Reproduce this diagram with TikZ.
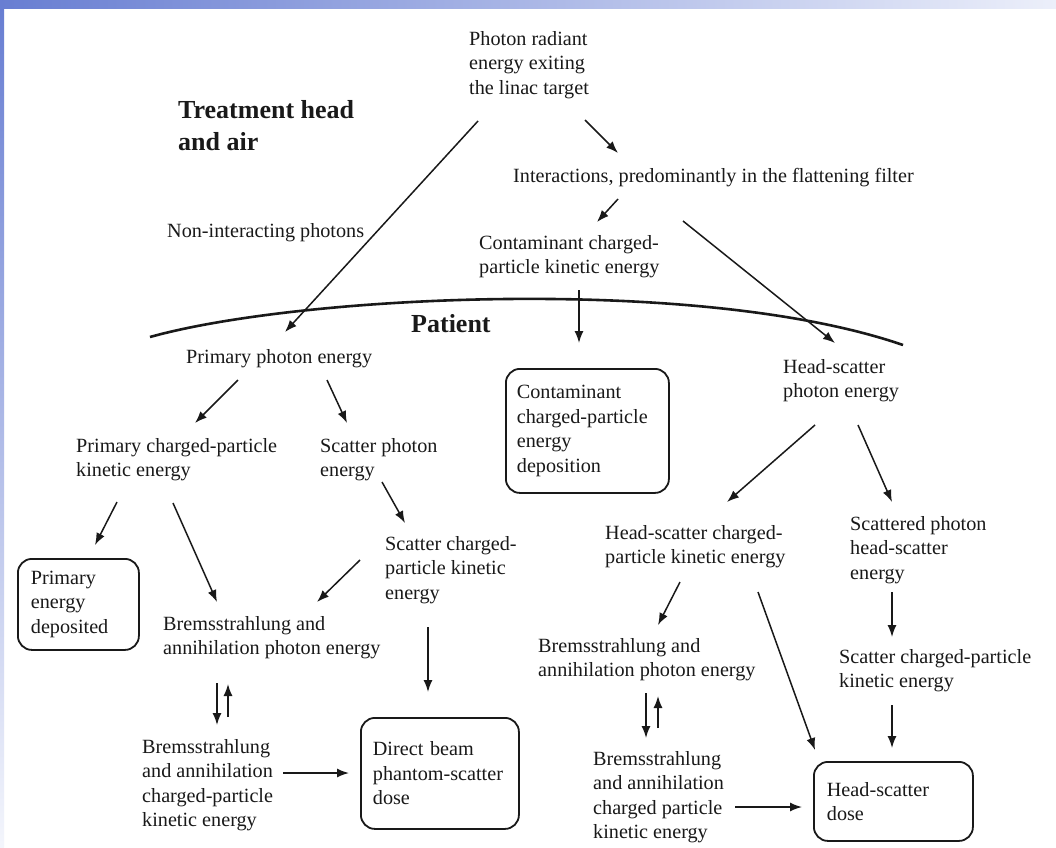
\documentclass[tikz,border=0pt]{standalone}
\usepackage{fontspec}
\setmainfont{Liberation Serif}
\usetikzlibrary{arrows.meta}
\definecolor{txt}{RGB}{25,25,25}
\definecolor{slideblue}{RGB}{104,126,210}
\definecolor{slidelight}{RGB}{236,239,250}
\begin{document}
\begin{tikzpicture}[x=1pt,y=-1pt,
  every node/.style={inner sep=0pt, text=txt, font=\fontsize{20.2pt}{24.5pt}\selectfont},
  lbl/.style={anchor=north west, align=left},
  hdr/.style={anchor=north west, align=left, font=\fontsize{26pt}{32pt}\selectfont\bfseries},
  dbox/.style={draw=txt, line width=1.8pt, rounded corners=14pt, align=left, anchor=north west},
  arr/.style={draw=txt, line width=1.5pt, -{Latex[length=12pt,width=9pt]}}
]
\useasboundingbox (0,0) rectangle (1056,847);
\fill[white] (0,0) rectangle (1056,847);
% slide background bands
\shade[left color=slideblue, right color=slidelight] (0,0) rectangle (1056,8);
\shade[top color=slideblue, bottom color=slidelight!60!white] (0,8) rectangle (4,847);

% headers
\node[hdr] (head) at (178,118-18) {Treatment head\\and air};
\node[hdr] (patient) at (411,332-18) {Patient};

% boundary curve
\draw[txt, line width=2.6pt] (150,337) .. controls (300,295) and (700,275) .. (903,345);

% text nodes
\node[lbl] (photon) at (469,45-14) {Photon radiant\\energy exiting\\the linac target};
\node[lbl] (inter) at (513,182-14) {Interactions, predominantly in the flattening filter};
\node[lbl] (nonint) at (167,237-14) {Non-interacting photons};
\node[lbl] (contam) at (479,249-14) {Contaminant charged-\\particle kinetic energy};
\node[lbl] (primph) at (186,363-14) {Primary photon energy};
\node[lbl] (hsph) at (783,373-14) {Head-scatter\\photon energy};
\node[lbl] (primcp) at (76,452-14) {Primary charged-particle\\kinetic energy};
\node[lbl] (scph) at (320,452-14) {Scatter photon\\energy};
\node[lbl] (hscp) at (605,539-14) {Head-scatter charged-\\particle kinetic energy};
\node[lbl] (scatph) at (850,530-14) {Scattered photon\\head-scatter\\energy};
\node[lbl] (sccp) at (385,550-14) {Scatter charged-\\particle kinetic\\energy};
\node[lbl] (bremL) at (163,630-14) {Bremsstrahlung and\\annihilation photon energy};
\node[lbl] (bremR) at (538,652-14) {Bremsstrahlung and\\annihilation photon energy};
\node[lbl] (sccpR) at (839,663-14) {Scatter charged-particle\\kinetic energy};
\node[lbl] (bcpL) at (142,753-14) {Bremsstrahlung\\and annihilation\\charged-particle\\kinetic energy};
\node[lbl] (bcpR) at (593,765-14) {Bremsstrahlung\\and annihilation\\charged particle\\kinetic energy};

% boxes
\node[dbox, minimum width=163pt, minimum height=124pt, text width=141pt, inner xsep=11pt, inner ysep=15pt] (contbox) at (505,368) {Contaminant\\charged-particle\\energy\\deposition};
\node[dbox, minimum width=121pt, minimum height=91pt, text width=95pt, inner xsep=13pt, inner ysep=12pt] (primdep) at (17,558) {Primary\\energy\\deposited};
\node[dbox, minimum width=158pt, minimum height=111pt, text width=134pt, inner xsep=12pt, inner ysep=22pt] (direct) at (360,717) {Direct beam\\phantom-scatter\\dose};
\node[dbox, minimum width=159pt, minimum height=79pt, text width=133pt, inner xsep=13pt, inner ysep=12pt] (hsdose) at (813,761) {Head-scatter\\dose};

% connector end points
\coordinate (a1s) at (478,121); \coordinate (a1e) at (285,332);
\coordinate (a2s) at (585,120); \coordinate (a2e) at (618,153);
\coordinate (a3s) at (618,199); \coordinate (a3e) at (597,222);
\coordinate (a4s) at (683,221); \coordinate (a4e) at (835,343);
\coordinate (a5s) at (579,290); \coordinate (a5e) at (579,343);
\coordinate (a6s) at (238,380); \coordinate (a6e) at (195,423);
\coordinate (a7s) at (327,380); \coordinate (a7e) at (347,423);
\coordinate (a8s) at (382,482); \coordinate (a8e) at (405,523);
\coordinate (a9s) at (117,502); \coordinate (a9e) at (95,545);
\coordinate (a10s) at (173,503); \coordinate (a10e) at (217,602);
\coordinate (a11s) at (360,560); \coordinate (a11e) at (317,602);
\coordinate (a12s) at (428,627); \coordinate (a12e) at (428,692);
\coordinate (a13s) at (217,683); \coordinate (a13e) at (217,725);
\coordinate (a14s) at (228,717); \coordinate (a14e) at (228,684);
\coordinate (a15s) at (283,773); \coordinate (a15e) at (349,773);
\coordinate (a16s) at (815,425); \coordinate (a16e) at (727,502);
\coordinate (a17s) at (858,425); \coordinate (a17e) at (892,502);
\coordinate (a18s) at (680,582); \coordinate (a18e) at (658,625);
\coordinate (a19s) at (758,592); \coordinate (a19e) at (815,750);
\coordinate (a20s) at (892,592); \coordinate (a20e) at (892,637);
\coordinate (a21s) at (892,705); \coordinate (a21e) at (892,748);
\coordinate (a22s) at (646,693); \coordinate (a22e) at (646,738);
\coordinate (a23s) at (658,728); \coordinate (a23e) at (658,696);
\coordinate (a24s) at (735,807); \coordinate (a24e) at (802,807);

% connectors
\draw[arr] (a1s) -- (a1e);
\draw[arr] (a2s) -- (a2e);
\draw[arr] (a3s) -- (a3e);
\draw[arr] (a4s) -- (a4e);
\draw[arr] (a5s) -- (a5e);
\draw[arr] (a6s) -- (a6e);
\draw[arr] (a7s) -- (a7e);
\draw[arr] (a8s) -- (a8e);
\draw[arr] (a9s) -- (a9e);
\draw[arr] (a10s) -- (a10e);
\draw[arr] (a11s) -- (a11e);
\draw[arr] (a12s) -- (a12e);
\draw[arr] (a13s) -- (a13e);
\draw[arr] (a14s) -- (a14e);
\draw[arr] (a15s) -- (a15e);
\draw[arr] (a16s) -- (a16e);
\draw[arr] (a17s) -- (a17e);
\draw[arr] (a18s) -- (a18e);
\draw[arr] (a19s) -- (a19e);
\draw[arr] (a20s) -- (a20e);
\draw[arr] (a21s) -- (a21e);
\draw[arr] (a22s) -- (a22e);
\draw[arr] (a23s) -- (a23e);
\draw[arr] (a24s) -- (a24e);
\end{tikzpicture}
\end{document}
